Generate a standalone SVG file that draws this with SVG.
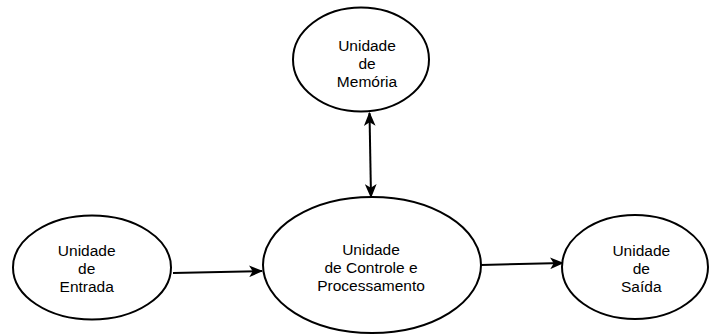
<svg xmlns="http://www.w3.org/2000/svg" width="709" height="334" viewBox="0 0 709 334">
<style>
.node ellipse{fill:#fff;stroke:#000;stroke-width:2}
.node text{font-family:"Liberation Sans",Arial,sans-serif;font-size:15.5px;fill:#000;text-anchor:middle}
.edge{stroke:#000;stroke-width:2;fill:none}
</style>
<defs>
<marker id="arr" viewBox="0 0 12 10" refX="11" refY="5" markerWidth="14" markerHeight="12" markerUnits="userSpaceOnUse" orient="auto-start-reverse">
<path d="M0,0 L12,5 L0,10 L3,5 z" fill="#000"/>
</marker>
</defs>
<g id="connectors">
<path class="edge" d="M173,273 L262,271" marker-end="url(#arr)"/>
<path class="edge" d="M481,265 L563,263" marker-end="url(#arr)"/>
<path class="edge" d="M369.5,113 L371,197" marker-start="url(#arr)" marker-end="url(#arr)"/>
</g>
<g id="memoria" class="node">
<ellipse cx="361" cy="59.5" rx="68" ry="52"/>
<text x="367" y="50.5">Unidade</text>
<text x="367" y="68.8">de</text>
<text x="367" y="87">Memória</text>
</g>
<g id="entrada" class="node">
<ellipse cx="92" cy="267.5" rx="79" ry="52"/>
<text x="86.7" y="255.5">Unidade</text>
<text x="86.7" y="273.8">de</text>
<text x="86.7" y="292.1">Entrada</text>
</g>
<g id="controle" class="node">
<ellipse cx="372" cy="265" rx="109" ry="68"/>
<text x="371" y="254.5">Unidade</text>
<text x="371" y="272.8">de Controle e</text>
<text x="371" y="291.1">Processamento</text>
</g>
<g id="saida" class="node">
<ellipse cx="635" cy="267" rx="73" ry="52"/>
<text x="641.3" y="255.5">Unidade</text>
<text x="641.3" y="273.8">de</text>
<text x="641.3" y="292.1">Saída</text>
</g>
</svg>
